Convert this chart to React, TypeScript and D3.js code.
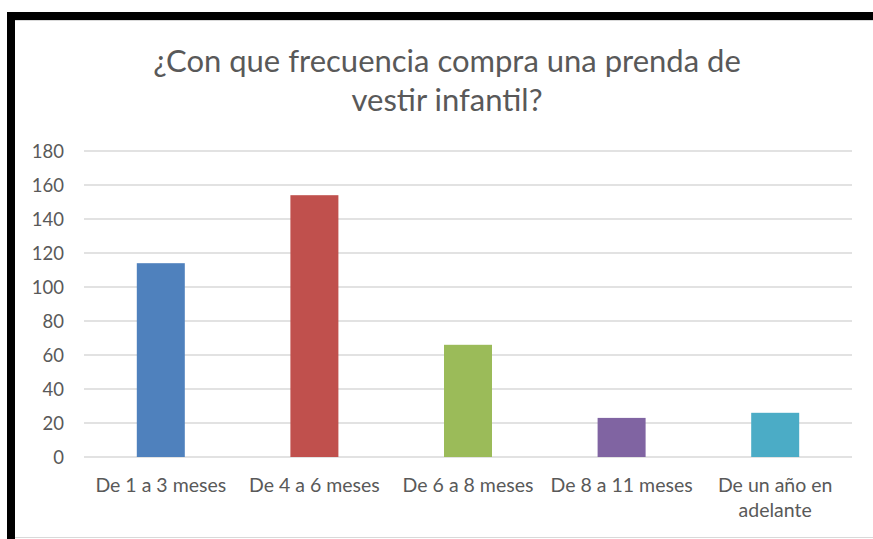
import React from "react";
import * as d3 from "d3";

const categories = ["De 1 a 3 meses", "De 4 a 6 meses", "De 6 a 8 meses", "De 8 a 11 meses", "De un año en|adelante"];
const values = [114, 154, 66, 23, 26];
const colors = ["#4F81BD", "#C0504D", "#9BBB59", "#8064A2", "#4BACC6"];
const yTicks = [0, 20, 40, 60, 80, 100, 120, 140, 160, 180];
const titleLines = ["¿Con que frecuencia compra una prenda de", "vestir infantil?"];

export default function App() {
  const W = 873, H = 539;
  const left = 84, right = 852, top = 151, bottom = 457;
  const x = d3.scaleBand<string>().domain(categories).range([left, right]).padding(0);
  const y = d3.scaleLinear().domain([0, 180]).range([bottom, top]);
  const barW = x.bandwidth() * 0.3125;
  const font = "Lato, Carlito, Calibri, sans-serif";
  const textColor = "#595959";
  return (
    <svg width={W} height={H} style={{ position: "absolute", left: 0, top: 0, background: "#fff" }} fontFamily={font}>
      <rect x={0} y={0} width={W} height={H} fill="#fff" />
      {/* frame */}
      <rect x={7} y={12} width={W - 7} height={8} fill="#000" />
      <rect x={7} y={12} width={8} height={H - 12} fill="#000" />
      <line x1={15} x2={W} y1={20.5} y2={20.5} stroke="#d9d9d9" />
      <line x1={15} x2={W} y1={537.5} y2={537.5} stroke="#d9d9d9" />
      {titleLines.map((t, i) => (
        <text key={i} x={447} y={72 + i * 39} textAnchor="middle" fontSize={31} fill={textColor}>{t}</text>
      ))}
      {yTicks.map((t) => (
        <g key={t}>
          <line x1={left} x2={right} y1={y(t)} y2={y(t)} stroke="#d9d9d9" strokeWidth={1.5} />
          <text x={64} y={y(t) + 6.5} textAnchor="end" fontSize={18.5} fill={textColor}>{t}</text>
        </g>
      ))}
      {categories.map((c, i) => (
        <rect key={c} x={(x(c) as number) + x.bandwidth() / 2 - barW / 2} y={y(values[i])} width={barW} height={y(0) - y(values[i])} fill={colors[i]} />
      ))}
      {categories.map((c) => (
        <text key={c} textAnchor="middle" fontSize={19.5} fill={textColor}>
          {c.split("|").map((l, j) => (
            <tspan key={j} x={(x(c) as number) + x.bandwidth() / 2} y={492 + j * 25}>{l}</tspan>
          ))}
        </text>
      ))}
    </svg>
  );
}
